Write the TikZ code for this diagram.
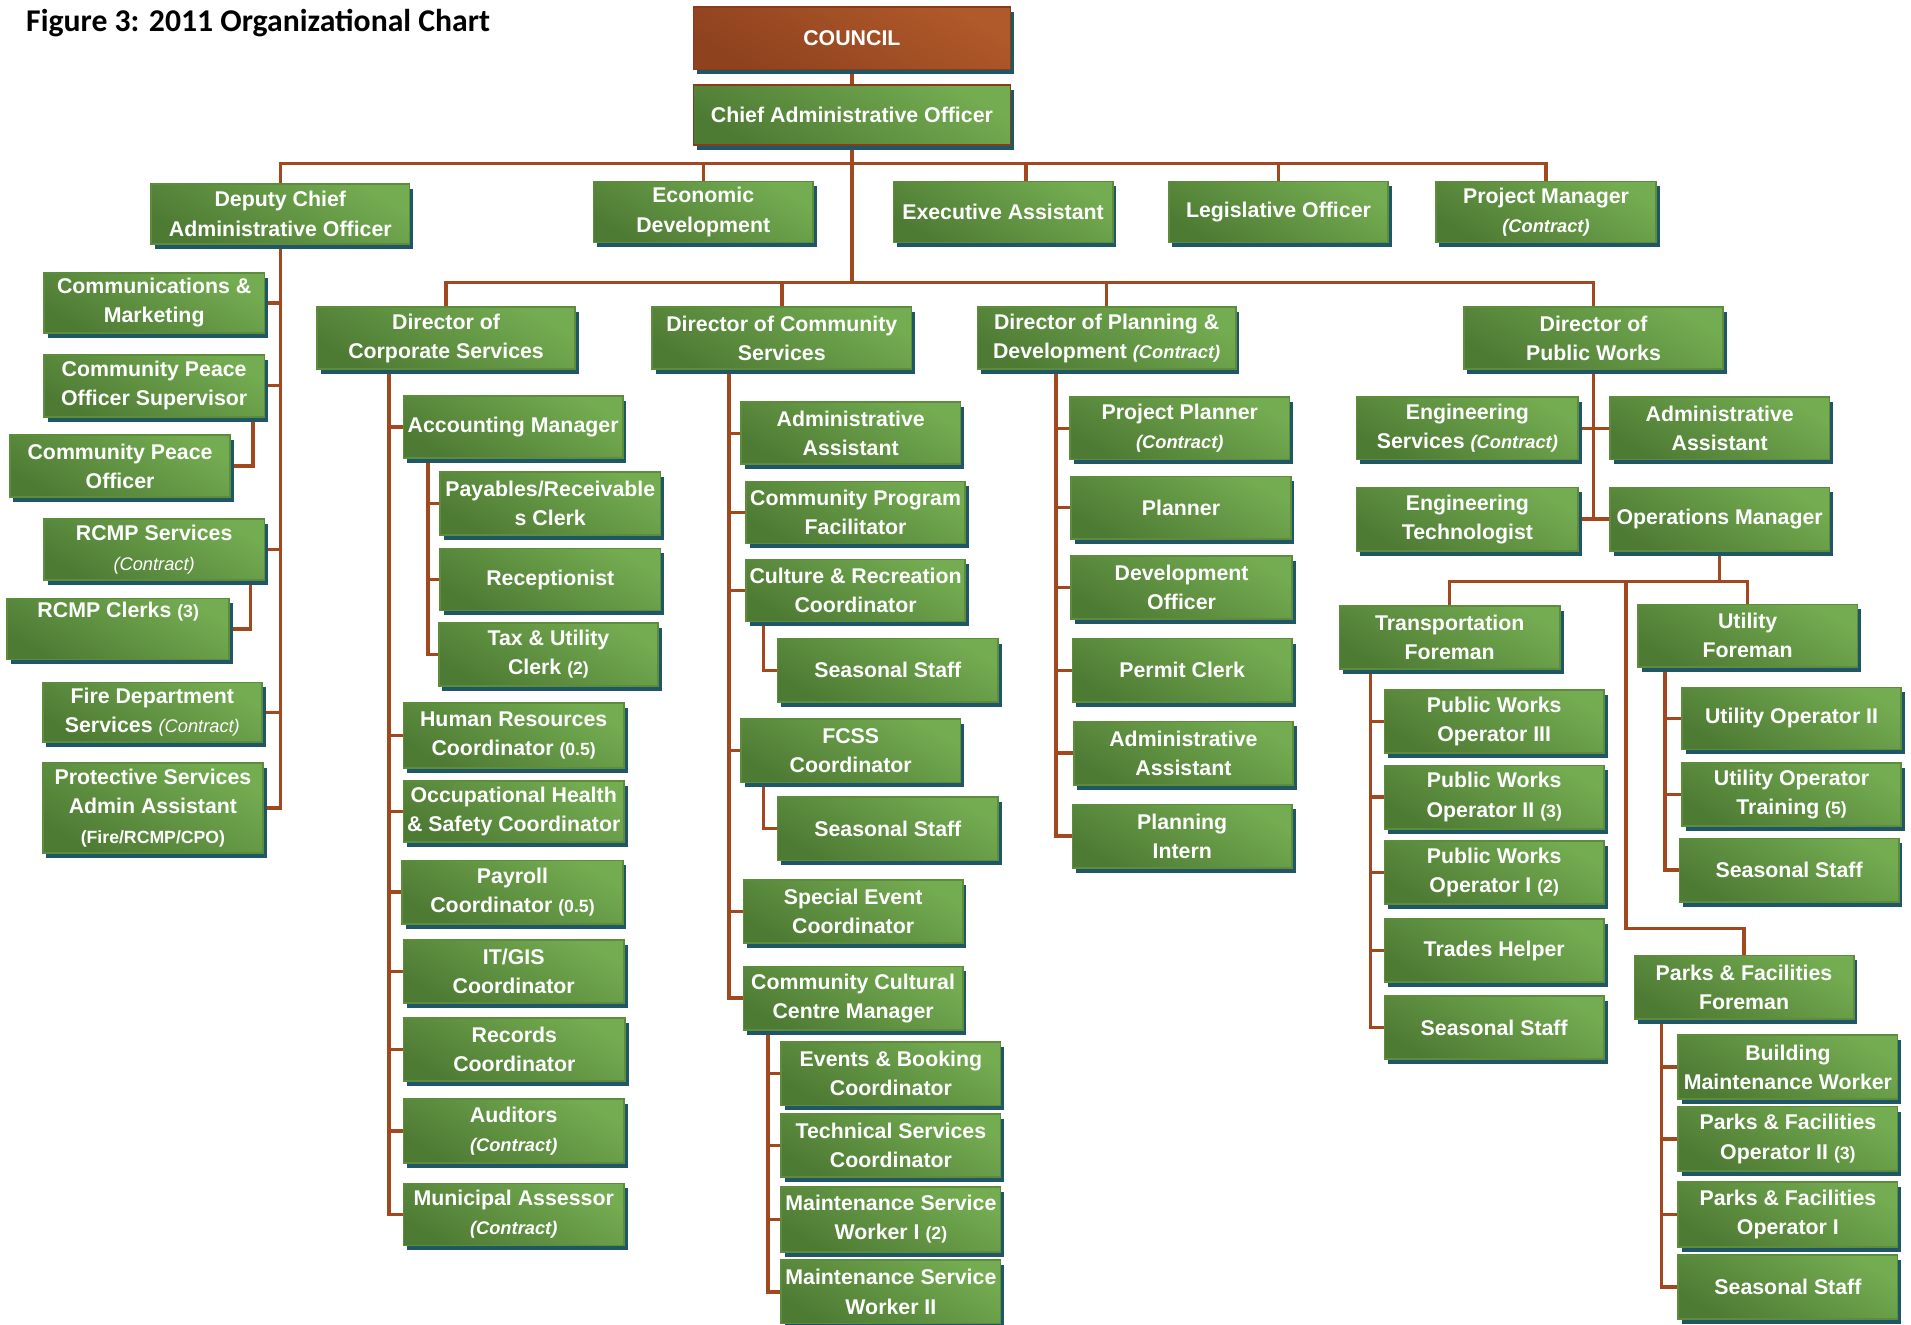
\documentclass[tikz,border=0pt]{standalone}
\usepackage{fontspec}
\setmainfont{Liberation Sans}
\newfontfamily\titlefont{Carlito}
\usetikzlibrary{calc,backgrounds}
\definecolor{gdark}{HTML}{4E7B34}
\definecolor{glight}{HTML}{74AC51}
\definecolor{gedge}{HTML}{5C8C3C}
\definecolor{shadowc}{HTML}{205767}
\definecolor{cdark}{HTML}{8E421E}
\definecolor{clight}{HTML}{B0592A}
\definecolor{cedge}{HTML}{8A3C1A}
\definecolor{linec}{HTML}{A2481F}
\newcommand\ct{{\fontsize{15}{24}\selectfont\itshape (Contract)}}
\newcommand\ctl{{\fontsize{15}{24}\selectfont\mdseries\itshape (Contract)}}
\newcommand\nm[1]{{\fontsize{14.5}{24}\selectfont #1}}
\tikzset{
  gbox/.style={rectangle, draw=gedge, line width=1.4pt,
    top color=glight, bottom color=gdark, shading angle=-30,
    text=white, font=\bfseries\fontsize{17.5}{24}\selectfont,
    align=center, inner sep=1pt,
    preaction={fill=shadowc, transform canvas={xshift=3pt,yshift=-4pt}}},
  cbox/.style={gbox, draw=cedge, top color=clight, bottom color=cdark, shading angle=-30},
  conn/.style={draw=linec, line width=2.8pt},
  titlestyle/.style={anchor=base west, font=\titlefont\bfseries\fontsize{26}{30}\selectfont}
}
% \bx[opts]{name}{x1}{y1}{x2}{y2}{text}
\newcommand\bx[7][]{\node[gbox,#1,minimum width={#5-#3},minimum height={#6-#4}] (#2) at ({(#3+#5)/2},{(#4+#6)/2}) {#7};}
\begin{document}
\begin{tikzpicture}[x=1pt,y=-1pt]
\useasboundingbox (0,0) rectangle (1568,1087);
\node[titlestyle] (title) at (18,26) {Figure 3: 2011 Organizational Chart};

\bx[cbox]{council}{569}{6}{829}{57}{COUNCIL}
\bx[draw=cedge]{cao}{569}{70}{829}{119}{Chief Administrative Officer}

\bx{dep}{124}{151}{336}{200}{Deputy Chief\\Administrative Officer}
\bx{econ}{487}{149}{667}{199}{Economic\\Development}
\bx{exa}{733}{149}{913}{199}{Executive Assistant}
\bx{leg}{959}{149}{1139}{199}{Legislative Officer}
\bx{pm}{1178}{149}{1359}{199}{Project Manager\\\ct}

\bx{comm}{36}{224}{217}{273}{Communications \&\\Marketing}
\bx{cpos}{36}{291}{217}{342}{Community Peace\\Officer Supervisor}
\bx{cpo}{8}{357}{189}{408}{Community Peace\\Officer}
\bx{rcmp}{36}{426}{217}{476}{RCMP Services\\\ctl}
\bx{rcmpc}{6}{491}{188}{541}{RCMP Clerks \nm{(3)}\\\strut}
\bx{fire}{35}{560}{215}{609}{Fire Department\\Services \ctl}
\bx{prot}{35}{626}{216}{700}{Protective Services\\Admin Assistant\\\nm{(Fire/RCMP/CPO)}}

\bx{corp}{260}{252}{472}{303}{Director of\\Corporate Services}
\bx{cs}{535}{252}{748}{303}{Director of Community\\Services}
\bx{pd}{802}{252}{1014}{303}{Director of Planning \&\\Development \ct}
\bx{pw}{1201}{252}{1414}{303}{Director of\\Public Works}

\bx{acct}{331}{325}{511}{376}{Accounting Manager}
\bx{pay}{361}{387}{542}{439}{Payables/Receivable\\s Clerk}
\bx{rec}{361}{450}{542}{501}{Receptionist}
\bx{tax}{360}{511}{540}{563}{Tax \& Utility\\Clerk \nm{(2)}}
\bx{hr}{331}{577}{512}{630}{Human Resources\\Coordinator \nm{(0.5)}}
\bx{ohs}{331}{641}{512}{691}{Occupational Health\\\& Safety Coordinator}
\bx{payr}{330}{706}{511}{758}{Payroll\\Coordinator \nm{(0.5)}}
\bx{it}{331}{771}{512}{823}{IT/GIS\\Coordinator}
\bx{recd}{331}{835}{513}{887}{Records\\Coordinator}
\bx{aud}{331}{902}{512}{954}{Auditors\\\ct}
\bx{ma}{331}{971}{512}{1022}{Municipal Assessor\\\ct}

\bx{caa}{608}{330}{788}{381}{Administrative\\Assistant}
\bx{cpf}{612}{395}{792}{446}{Community Program\\Facilitator}
\bx{crc}{612}{459}{792}{510}{Culture \& Recreation\\Coordinator}
\bx{ssa}{638}{524}{819}{576}{Seasonal Staff}
\bx{fcss}{608}{590}{788}{642}{FCSS\\Coordinator}
\bx{ssb}{638}{654}{819}{706}{Seasonal Staff}
\bx{sec}{610}{722}{790}{774}{Special Event\\Coordinator}
\bx{cccm}{610}{793}{790}{845}{Community Cultural\\Centre Manager}
\bx{ebc}{641}{855}{821}{907}{Events \& Booking\\Coordinator}
\bx{tsc}{641}{914}{821}{966}{Technical Services\\Coordinator}
\bx{mswa}{641}{974}{821}{1027}{Maintenance Service\\Worker I \nm{(2)}}
\bx{mswb}{641}{1034}{821}{1086}{Maintenance Service\\Worker II}

\bx{pp}{878}{326}{1058}{377}{Project Planner\\\ct}
\bx{pl}{879}{391}{1059}{442}{Planner}
\bx{dvo}{879}{456}{1060}{508}{Development\\Officer}
\bx{pc}{880}{524}{1060}{576}{Permit Clerk}
\bx{paa}{881}{592}{1061}{644}{Administrative\\Assistant}
\bx{pint}{880}{660}{1060}{712}{Planning\\Intern}

\bx{engs}{1113}{326}{1295}{377}{Engineering\\Services \ct}
\bx{pwaa}{1321}{326}{1501}{377}{Administrative\\Assistant}
\bx{engt}{1113}{400}{1295}{452}{Engineering\\Technologist}
\bx{ops}{1321}{400}{1501}{452}{Operations Manager}
\bx{tf}{1099}{497}{1280}{549}{Transportation\\Foreman}
\bx{pwc}{1136}{566}{1316}{618}{Public Works\\Operator III}
\bx{pwb}{1136}{628}{1316}{680}{Public Works\\Operator II \nm{(3)}}
\bx{pwa}{1136}{690}{1316}{742}{Public Works\\Operator I \nm{(2)}}
\bx{th}{1136}{754}{1316}{806}{Trades Helper}
\bx{pwss}{1136}{817}{1316}{869}{Seasonal Staff}
\bx{uf}{1344}{496}{1524}{547}{Utility\\Foreman}
\bx{uob}{1380}{564}{1560}{615}{Utility Operator II}
\bx{uot}{1380}{626}{1560}{678}{Utility Operator\\Training \nm{(5)}}
\bx{uss}{1378}{688}{1558}{740}{Seasonal Staff}
\bx{pf}{1341}{784}{1521}{836}{Parks \& Facilities\\Foreman}
\bx{bmw}{1377}{849}{1557}{902}{Building\\Maintenance Worker}
\bx{pfob}{1377}{908}{1557}{961}{Parks \& Facilities\\Operator II \nm{(3)}}
\bx{pfoa}{1377}{970}{1557}{1023}{Parks \& Facilities\\Operator I}
\bx{pfss}{1377}{1030}{1557}{1082}{Seasonal Staff}

\coordinate (b1) at (699,134);
\coordinate (b2) at (699,232);
\coordinate (b3) at (1411,477);
\coordinate (pk1) at (1334,477);
\coordinate (pk2) at (1334,762);

\begin{scope}[on background layer]
\fill[white] (0,0) rectangle (1568,1087);
\draw[conn] (council.south) -- (cao.north);
\draw[conn] (cao.south) -- (b2);
\foreach \n in {dep,econ,leg,pm} \draw[conn] (\n.north) |- (b1);
\draw[conn] ([xshift=19pt]exa.north) |- (b1);
\foreach \n in {corp,cs,pd,pw} \draw[conn] (\n.north) |- (b2);
\foreach \n in {comm,cpos,rcmp,fire,prot} \draw[conn] (dep.south) |- (\n.east);
\draw[conn] ([xshift=-10pt]cpos.south east) |- (cpo.east);
\draw[conn] ([xshift=-12pt]rcmp.south east) |- (rcmpc.east);
\foreach \n in {acct,hr,ohs,payr,it,recd,aud,ma} \draw[conn] ([xshift=60pt]corp.south west) |- (\n.west);
\foreach \n in {pay,rec,tax} \draw[conn] ([xshift=21pt]acct.south west) |- (\n.west);
\foreach \n in {caa,cpf,crc,fcss,sec,cccm} \draw[conn] ([xshift=64pt]cs.south west) |- (\n.west);
\draw[conn] ([xshift=15pt]crc.south west) |- (ssa.west);
\draw[conn] ([xshift=19pt]fcss.south west) |- (ssb.west);
\foreach \n in {ebc,tsc,mswa,mswb} \draw[conn] ([xshift=21pt]cccm.south west) |- (\n.west);
\foreach \n in {pp,pl,dvo,pc,paa,pint} \draw[conn] ([xshift=65pt]pd.south west) |- (\n.west);
\draw[conn] (pw.south) -- (pw.south |- engt.east);
\draw[conn] (engs.east) -- (pwaa.west);
\draw[conn] (engt.east) -- (ops.west);
\draw[conn] (ops.south) -- (b3);
\draw[conn] (tf.north) |- (b3);
\draw[conn] (uf.north) |- (b3);
\draw[conn] (pk1) -- (pk2) -| (pf.north);
\foreach \n in {pwc,pwb,pwa,th,pwss} \draw[conn] ([xshift=26pt]tf.south west) |- (\n.west);
\foreach \n in {uob,uot,uss} \draw[conn] ([xshift=23pt]uf.south west) |- (\n.west);
\foreach \n in {bmw,pfob,pfoa,pfss} \draw[conn] ([xshift=23pt]pf.south west) |- (\n.west);
\end{scope}
\end{tikzpicture}
\end{document}
